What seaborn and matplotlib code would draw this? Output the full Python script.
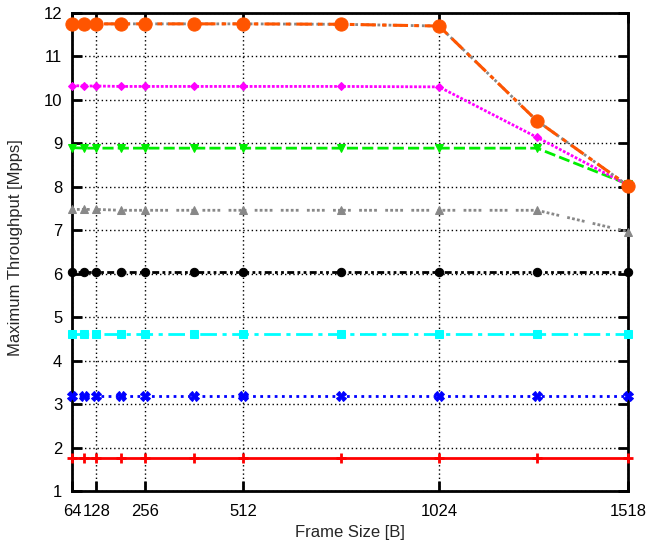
import matplotlib
matplotlib.use("Agg")
import numpy as np
import pandas as pd
import matplotlib.pyplot as plt
import seaborn as sns

# frame sizes and measured throughput per series (Mpps)
frame_sizes = [64, 96, 128, 192, 256, 384, 512, 768, 1024, 1280, 1518]
red_vals = [1.77] * 11
blue_vals = [3.18] * 11
cyan_vals = [4.61] * 11
black_vals = [6.04] * 11
gray_vals = [7.48, 7.48, 7.48, 7.46, 7.46, 7.46, 7.46, 7.46, 7.46, 7.46, 6.97]
green_vals = [8.90, 8.89, 8.89, 8.89, 8.89, 8.89, 8.89, 8.89, 8.89, 8.89, 8.06]
magenta_vals = [10.33, 10.32, 10.32, 10.31, 10.31, 10.31, 10.31, 10.31, 10.30, 9.14, 8.04]
orange_vals = [11.75, 11.75, 11.75, 11.75, 11.75, 11.75, 11.75, 11.74, 11.70, 9.52, 8.03]

xticks = [64, 128, 256, 512, 1024, 1518]
yticks = list(range(1, 13))

sns.set_theme(style="white")
plt.rcParams['font.family'] = ['Liberation Sans', 'DejaVu Sans']

fig = plt.figure(figsize=(6.48, 5.46), dpi=100)
ax = fig.add_axes([0.111, 0.1007, 0.858, 0.8755])

series = [
    (red_vals, dict(color='#ff0000', linestyle='-', marker='+', markersize=7, markeredgewidth=2)),
    (blue_vals, dict(color='#0000ff', linestyle=(0, (1, 1.6)), marker='X', markersize=7)),
    (cyan_vals, dict(color='#00ffff', linestyle=(0, (6, 2, 1.5, 2)), marker='s', markersize=6)),
    (black_vals, dict(color='#000000', linestyle=(0, (1, 1.2, 1, 1.2, 2.5, 1.2)), marker='o', markersize=6)),
    (gray_vals, dict(color='#888888', linestyle=(0, (1, 0.8, 1, 0.8, 1, 0.8, 1, 3)), marker='^', markersize=5.5)),
    (green_vals, dict(color='#00ee00', linestyle=(0, (4, 1.5)), marker='v', markersize=5.5)),
    (magenta_vals, dict(color='#ff00ff', linestyle=(0, (1, 0.6)), marker='D', markersize=4.5)),
]

for vals, kw in series:
    sns.lineplot(x=frame_sizes, y=vals, ax=ax, linewidth=2, markeredgecolor=kw['color'],
                 clip_on=False, zorder=3, **kw)

# gray line visible through the orange dash gaps
sns.lineplot(x=frame_sizes, y=orange_vals, ax=ax, color='#888888', linewidth=2,
             linestyle=(0, (1, 1)), zorder=3)
sns.lineplot(x=frame_sizes, y=orange_vals, ax=ax, color='#ff5500', linewidth=2.2,
             linestyle=(0, (5, 2, 1.5, 2)), marker='o', markersize=9.5,
             markeredgecolor='#ff5500', clip_on=False, zorder=4)

ax.set_xlim(64, 1518)
ax.set_ylim(1, 12)
ax.set_xticks(xticks)
ax.set_yticks(yticks)
ax.set_xticklabels([str(t) for t in xticks])
ax.grid(True, color='black', linestyle=(0, (1, 2)), linewidth=1)
ax.set_axisbelow(True)

for s in ax.spines.values():
    s.set_visible(True)
    s.set_color('black')
    s.set_linewidth(2)

ax.tick_params(direction='in', length=7, width=2, top=True, right=True,
               bottom=True, left=True, labelsize=12, colors='black', pad=7)
ax.tick_params(axis='x', pad=9)

ax.set_xlabel('Frame Size [B]', fontsize=12)
ax.set_ylabel('Maximum Throughput [Mpps]', fontsize=12)
ax.xaxis.set_label_coords(0.5, -0.071)
ax.yaxis.set_label_coords(-0.088, 0.51)

fig.savefig('out.png', dpi=100)
